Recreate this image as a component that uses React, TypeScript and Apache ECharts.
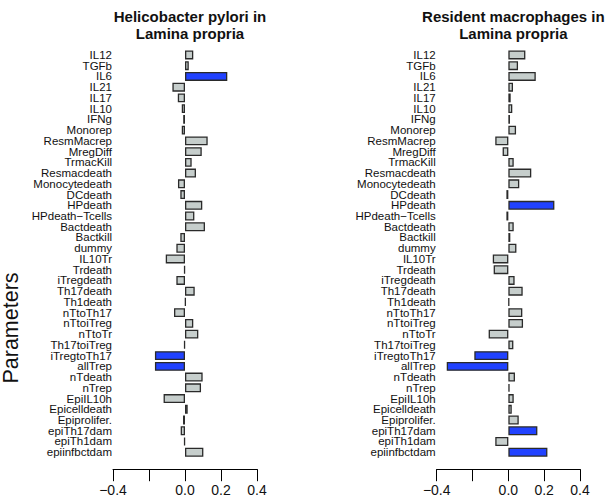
import React, { useEffect, useRef } from "react";
import * as echarts from "echarts";

const categories = [
  "IL12", "TGFb", "IL6", "IL21", "IL17", "IL10", "IFNg", "Monorep", "ResmMacrep", "MregDiff",
  "TrmacKill", "Resmacdeath", "Monocytedeath", "DCdeath", "HPdeath", "HPdeath\u2212Tcells", "Bactdeath", "Bactkill", "dummy", "IL10Tr",
  "Trdeath", "iTregdeath", "Th17death", "Th1death", "nTtoTh17", "nTtoiTreg", "nTtoTr", "Th17toiTreg", "iTregtoTh17", "allTrep",
  "nTdeath", "nTrep", "EpiIL10h", "Epicelldeath", "Epiprolifer.", "epiTh17dam", "epiTh1dam", "epiinfbctdam",
];

const hpValues = [
  0.046, 0.021, 0.235, -0.07, -0.04, -0.018, -0.01, -0.018, 0.126, 0.093,
  0.037, 0.061, -0.039, -0.026, 0.096, 0.052, 0.111, -0.026, -0.048, -0.107,
  -0.005, -0.048, 0.054, 0.004, -0.061, 0.046, 0.074, -0.005, -0.167, -0.167,
  0.098, 0.089, -0.119, 0.015, -0.011, -0.024, -0.005, 0.102,
];
const hpHighlight = ["IL6", "iTregtoTh17", "allTrep"];

const rmValues = [
  0.095, 0.054, 0.153, 0.026, 0.013, 0.022, 0.009, 0.043, -0.073, -0.032,
  0.03, 0.128, 0.061, -0.011, 0.257, -0.011, 0.03, 0.011, 0.045, -0.087,
  -0.082, 0.035, 0.08, 0.005, 0.078, 0.082, -0.11, 0.028, -0.19, -0.344,
  0.037, 0.007, 0.03, 0.019, 0.058, 0.162, -0.073, 0.218,
];
const rmHighlight = ["HPdeath", "iTregtoTh17", "allTrep", "epiTh17dam", "epiinfbctdam"];

const titles = ["Helicobacter pylori in\nLamina propria", "Resident macrophages in\nLamina propria"];
const yAxisName = "Parameters";
const xTicks = { min: -0.4, max: 0.4, interval: 0.2 };

const FONT = "'Liberation Sans', Arial, Helvetica, sans-serif";
const GREY = "#c6cecc";
const BLUE = "#2142ff";

export default function App() {
  const ref = useRef<HTMLDivElement>(null);
  useEffect(() => {
    if (!ref.current) return;
    const chart = echarts.init(ref.current, null, { renderer: "svg" });
    const gridTop = 49.6;
    const gridHeight = 408;
    const grids = [
      { left: 113, top: gridTop, width: 144, height: gridHeight },
      { left: 436.7, top: gridTop, width: 143.3, height: gridHeight },
    ];
    const fmt = (v: number) => {
      if (Math.abs(v + 0.2) < 1e-9) return "";
      return (v < -1e-9 ? "\u2212" : "") + Math.abs(v).toFixed(1);
    };
    const mkData = (vals: number[], hl: string[]) =>
      vals.map((v, i) => ({
        value: v,
        itemStyle: { color: hl.includes(categories[i]) ? BLUE : GREY },
      }));
    chart.setOption({
      animation: false,
      textStyle: { fontFamily: FONT },
      title: grids.map((g, i) => ({
        text: titles[i],
        left: g.left + g.width / 2,
        top: 2.5,
        textAlign: "center",
        textStyle: { fontFamily: FONT, fontSize: 15, fontWeight: "bold", color: "#111", lineHeight: 17 },
      })),
      grid: grids,
      xAxis: grids.map((_, i) => ({
        type: "value",
        gridIndex: i,
        min: xTicks.min,
        max: xTicks.max,
        interval: xTicks.interval,
        offset: 11.6,
        axisLine: { show: true, onZero: false, lineStyle: { color: "#000", width: 1 } },
        axisTick: { show: true, inside: false, length: 12, lineStyle: { color: "#000", width: 1 } },
        axisLabel: { formatter: fmt, fontSize: 14, color: "#111", margin: 14, fontFamily: FONT },
        splitLine: { show: false },
      })),
      yAxis: grids.map((_, i) => ({
        type: "category",
        gridIndex: i,
        data: categories,
        inverse: true,
        axisLine: { show: false },
        axisTick: { show: false },
        axisLabel: {
          fontSize: 11.5,
          lineHeight: 10,
          color: "#111",
          margin: 1,
          interval: 0,
          fontFamily: FONT,
        },
      })),
      series: [
        {
          type: "bar",
          xAxisIndex: 0,
          yAxisIndex: 0,
          barWidth: 8.9,
          data: mkData(hpValues, hpHighlight),
          itemStyle: { borderColor: "#2a2a2a", borderWidth: 1.3 },
        },
        {
          type: "bar",
          xAxisIndex: 1,
          yAxisIndex: 1,
          barWidth: 8.9,
          data: mkData(rmValues, rmHighlight),
          itemStyle: { borderColor: "#2a2a2a", borderWidth: 1.3 },
        },
      ],
      graphic: [
        {
          type: "text",
          x: 11,
          y: 328,
          rotation: Math.PI / 2,
          style: {
            text: yAxisName,
            fontSize: 21.5,
            fontFamily: FONT,
            fill: "#111",
            textAlign: "center",
            textVerticalAlign: "middle",
          },
        },
      ],
    });
    return () => chart.dispose();
  }, []);
  return (
    <div
      ref={ref}
      style={{ position: "absolute", left: 0, top: 0, width: 605, height: 502, background: "#fff" }}
    />
  );
}
